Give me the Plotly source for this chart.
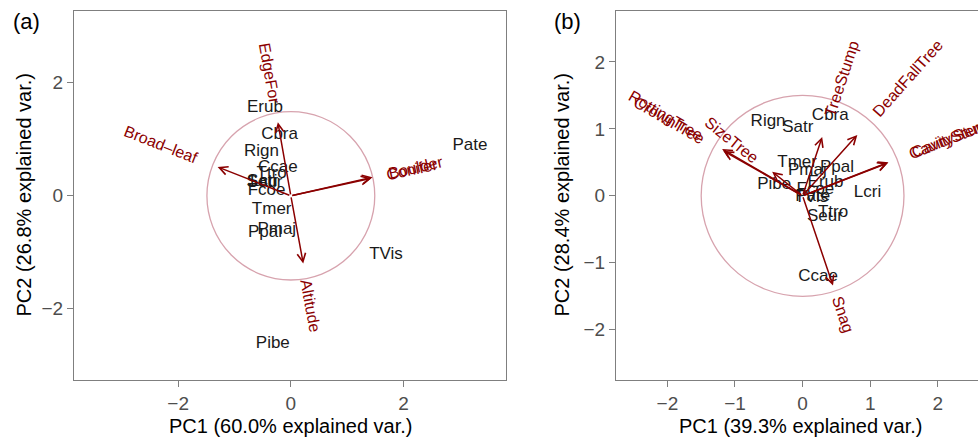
import math
import plotly.graph_objects as go

# ---------------- data ----------------
# Panel (a): species scores
sp_a = ["Erub", "Cbra", "Rign", "Ccae", "Ttro", "Satr", "Seur", "Lcri", "Fcoe",
        "Tmer", "Pmaj", "Ppal", "Pate", "TVis", "Pibe"]
pc1_a = [-0.46, -0.20, -0.52, -0.23, -0.34, -0.50, -0.47, -0.48, -0.43,
         -0.34, -0.25, -0.46, 3.18, 1.69, -0.32]
pc2_a = [1.56, 1.08, 0.78, 0.50, 0.39, 0.25, 0.23, 0.24, 0.09,
         -0.25, -0.60, -0.65, 0.88, -1.04, -2.62]
# Panel (a): variable loadings (arrow tips)
var_a = ["Broad–leaf", "EdgeFor", "Conifer", "Boulder", "Altitude"]
vx_a = [-1.30, -0.23, 1.43, 1.45, 0.22]
vy_a = [0.51, 1.30, 0.31, 0.33, -1.20]

# Panel (b): species scores
sp_b = ["Rign", "Satr", "Cbra", "Tmer", "Pmaj", "Ppal", "Erub", "Pibe", "Fcoe",
        "Pate", "TVis", "Lcri", "Ttro", "Seur", "Ccae"]
pc1_b = [-0.51, -0.07, 0.41, -0.08, 0.07, 0.51, 0.34, -0.42, 0.19,
         0.15, 0.13, 0.96, 0.45, 0.33, 0.23]
pc2_b = [1.10, 1.01, 1.19, 0.50, 0.38, 0.42, 0.20, 0.16, 0.09,
         -0.01, -0.03, 0.05, -0.25, -0.31, -1.21]
# Panel (b): variable loadings (arrow tips)
var_b = ["RottingTree", "CrownTree", "SizeTree", "TreeStump", "DeadFallTree",
         "CavityStem", "CavityStump", "Snag"]
vx_b = [-1.19, -1.17, -0.45, 0.29, 0.81, 1.26, 1.27, 0.45]
vy_b = [0.70, 0.67, 0.36, 0.88, 0.91, 0.49, 0.50, -1.34]

circle_r_a = 1.49
circle_r_b = 1.50

title_x_a = "PC1 (60.0% explained var.)"
title_y_a = "PC2 (26.8% explained var.)"
title_x_b = "PC1 (39.3% explained var.)"
title_y_b = "PC2 (28.4% explained var.)"
ticks_a = [-2, 0, 2]
ticks_b = [-2, -1, 0, 1, 2]

# ---------------- style ----------------
W, H = 978, 439
FONT = "Liberation Sans, Arial, Helvetica, sans-serif"
DARKRED = "#8B0000"
CIRCLE = "#D7A3AE"
BORDER = "#7f7f7f"
SP_SIZE = 17
VAR_SIZE = 16

# axis geometry (pixels)
ax_a = dict(x0=74, x1=506, xr=[-3.85, 3.82], yr=[-3.26, 3.27])
ax_b = dict(x0=616, x1=978, xr=[-2.76, 2.595], yr=[-2.75, 2.76])
Y0, Y1 = 11, 380

# Arial width table (per 1000 em)
AW = {c: 556 for c in "abdeghnopqu0123456789"}
AW.update({"c": 500, "f": 278, "i": 222, "j": 222, "k": 500, "l": 222, "m": 833,
           "r": 333, "s": 500, "t": 278, "v": 500, "w": 722, "x": 500, "y": 500,
           "z": 500, "A": 667, "B": 667, "C": 722, "D": 722, "E": 667, "F": 611,
           "G": 778, "H": 722, "I": 278, "J": 500, "K": 667, "L": 556, "M": 833,
           "N": 722, "O": 778, "P": 667, "Q": 778, "R": 722, "S": 667, "T": 611,
           "U": 722, "V": 667, "W": 944, "X": 667, "Y": 667, "Z": 611, "–": 556,
           "-": 333, " ": 278})


def text_w(s, size):
    return sum(AW.get(c, 556) for c in s) / 1000.0 * size


fig = go.Figure()


def add_panel(xa, ya, geom, sp, px, py, var, vx, vy, r):
    ppu = (geom["x1"] - geom["x0"]) / (geom["xr"][1] - geom["xr"][0])
    xr = "x" if xa == "xaxis" else "x" + xa[5:]
    yr = "y" if ya == "yaxis" else "y" + ya[5:]
    fig.add_shape(type="circle", xref=xr, yref=yr, x0=-r, y0=-r, x1=r, y1=r,
                  line=dict(color=CIRCLE, width=1.3), layer="below")
    fig.add_trace(go.Scatter(x=px, y=py, text=sp, mode="text", xaxis=xr, yaxis=yr,
                             textfont=dict(family=FONT, size=SP_SIZE, color="#1a1a1a"),
                             textposition="middle center", hoverinfo="text",
                             showlegend=False))
    for name, tx, ty in zip(var, vx, vy):
        fig.add_annotation(x=tx, y=ty, ax=0, ay=0, xref=xr, yref=yr, axref=xr, ayref=yr,
                           text="", showarrow=True, arrowhead=5, arrowsize=1.1,
                           arrowwidth=1.5, arrowcolor=DARKRED, standoff=0)
        ang = math.degrees(math.atan(ty / tx))
        phi = math.atan2(ty, tx)
        d = (0.75 * text_w(name, VAR_SIZE) + 3) / ppu
        cx = tx + d * math.cos(phi)
        cy = ty + d * math.sin(phi)
        fig.add_annotation(x=cx, y=cy, xref=xr, yref=yr, text=name, showarrow=False,
                           textangle=-ang, xanchor="center", yanchor="middle",
                           font=dict(family=FONT, size=VAR_SIZE, color=DARKRED))


add_panel("xaxis", "yaxis", ax_a, sp_a, pc1_a, pc2_a, var_a, vx_a, vy_a, circle_r_a)
add_panel("xaxis2", "yaxis2", ax_b, sp_b, pc1_b, pc2_b, var_b, vx_b, vy_b, circle_r_b)

ydom = [1 - Y1 / H, 1 - Y0 / H]
common = dict(showgrid=False, zeroline=False, showline=True, linecolor=BORDER,
              linewidth=1, ticks="outside", ticklen=6, tickcolor=BORDER,
              tickfont=dict(family=FONT, size=19, color="#4d4d4d"))

fig.update_layout(
    width=W, height=H, margin=dict(l=0, r=0, t=0, b=0),
    paper_bgcolor="white", plot_bgcolor="white",
    xaxis=dict(domain=[ax_a["x0"] / W, ax_a["x1"] / W], range=ax_a["xr"],
               tickvals=ticks_a, mirror=True, anchor="y", **common),
    yaxis=dict(domain=ydom, range=ax_a["yr"], tickvals=ticks_a, mirror=True,
               anchor="x", **common),
    xaxis2=dict(domain=[ax_b["x0"] / W, 1.0], range=ax_b["xr"], tickvals=ticks_b,
                mirror=True, anchor="y2", **common),
    yaxis2=dict(domain=ydom, range=ax_b["yr"], tickvals=ticks_b, mirror=False,
                anchor="x2", **common),
)

# axis titles and panel tags
def paper_text(x, y, txt, size, angle=0, xanchor="center", color="black"):
    fig.add_annotation(x=x / W, y=1 - y / H, xref="paper", yref="paper", text=txt,
                       showarrow=False, textangle=angle, xanchor=xanchor,
                       yanchor="middle", font=dict(family=FONT, size=size, color=color))


paper_text((ax_a["x0"] + ax_a["x1"]) / 2, 426, title_x_a, 20)
paper_text(800, 426, title_x_b, 20)
paper_text(23, (Y0 + Y1) / 2, title_y_a, 20, angle=-90)
paper_text(561, (Y0 + Y1) / 2, title_y_b, 20, angle=-90)
paper_text(11, 22, "(a)", 22, xanchor="left")
paper_text(552, 22, "(b)", 22, xanchor="left")

fig.write_html("out.html", config={"displayModeBar": False},
               post_script="document.body.style.margin='0';document.body.style.overflow='hidden';")
